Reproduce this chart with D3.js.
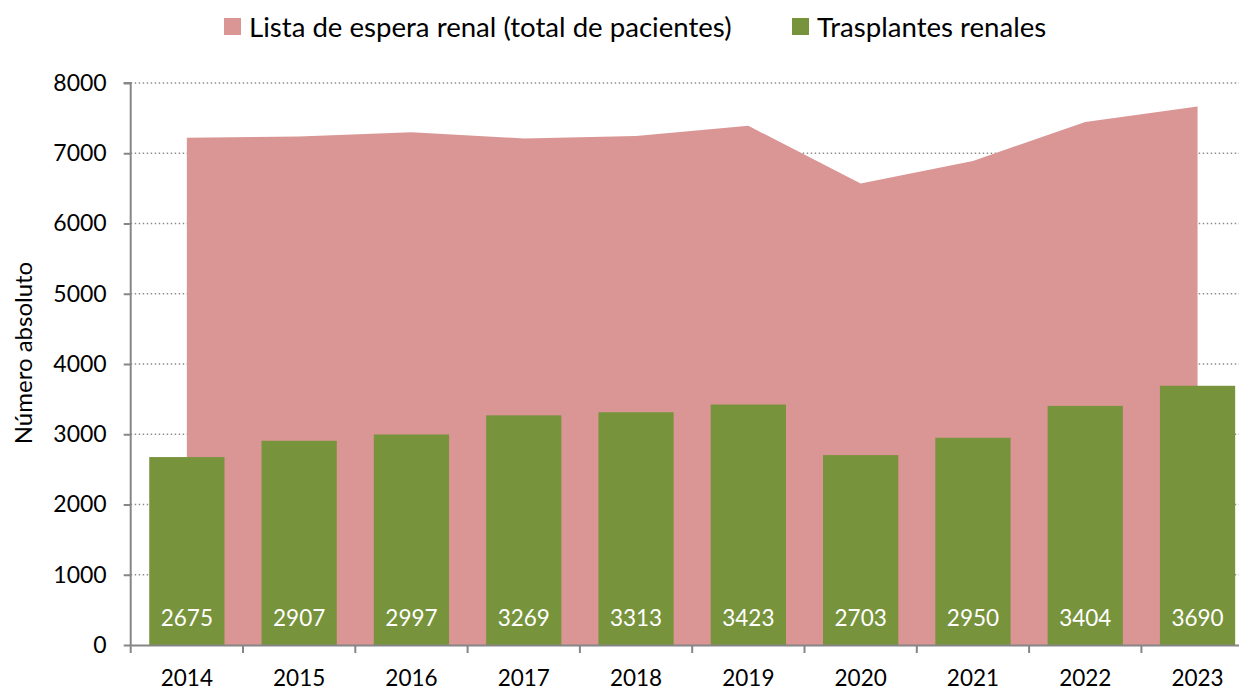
<!DOCTYPE html>
<html>
<head>
<meta charset="utf-8">
<script src="https://cdn.jsdelivr.net/npm/d3@7"></script>
<style>
  html, body { margin: 0; padding: 0; background: #fff; }
  svg { display: block; font-family: Lato, "Open Sans", sans-serif; }
</style>
</head>
<body>
<svg id="chart" width="1239" height="690"></svg>
<script>
// Kidney waiting list vs. kidney transplants, 2014–2023
const years = ["2014", "2015", "2016", "2017", "2018", "2019", "2020", "2021", "2022", "2023"];
const waitingList = [7220, 7240, 7300, 7210, 7245, 7390, 6570, 6890, 7445, 7665];
const transplants = [2675, 2907, 2997, 3269, 3313, 3423, 2703, 2950, 3404, 3690];
const yTicks = [0, 1000, 2000, 3000, 4000, 5000, 6000, 7000, 8000];
const seriesNames = ["Lista de espera renal (total de pacientes)", "Trasplantes renales"];
const colors = ["#D99694", "#77933C"];

const svg = d3.select("#chart");
const plotLeft = 130.7, plotBottom = 645, plotTop = 83, step = 112.3;
const plotRight = plotLeft + step * years.length;

const x = d3.scaleBand().domain(years).range([plotLeft, plotRight]).padding(0);
const xBar = d3.scaleBand().domain(years).range([plotLeft, plotRight]).paddingInner(0.33).paddingOuter(0.165);
const y = d3.scaleLinear().domain([0, 8000]).range([plotBottom, plotTop]);

// dotted gridlines
svg.append("g")
  .selectAll("line")
  .data(yTicks.filter(d => d > 0))
  .join("line")
  .attr("x1", plotLeft).attr("x2", 1239)
  .attr("y1", d => y(d)).attr("y2", d => y(d))
  .attr("stroke", "#8c8c8c")
  .attr("stroke-width", 1.5)
  .attr("stroke-dasharray", "1.5,2.5");

// waiting list area
const area = d3.area()
  .x((d, i) => x(years[i]) + x.bandwidth() / 2)
  .y0(y(0))
  .y1(d => y(d));
svg.append("path")
  .datum(waitingList)
  .attr("d", area)
  .attr("fill", colors[0]);

// transplant bars
svg.append("g")
  .selectAll("rect")
  .data(transplants)
  .join("rect")
  .attr("x", (d, i) => xBar(years[i]))
  .attr("width", xBar.bandwidth())
  .attr("y", d => y(d))
  .attr("height", d => y(0) - y(d))
  .attr("fill", colors[1]);

// value labels inside bars
svg.append("g")
  .selectAll("text")
  .data(transplants)
  .join("text")
  .attr("x", (d, i) => xBar(years[i]) + xBar.bandwidth() / 2)
  .attr("y", 626)
  .attr("text-anchor", "middle")
  .attr("fill", "#fff")
  .attr("font-size", 22.5)
  .text(d => d);

// y axis
const yAxis = d3.axisLeft(y).tickValues(yTicks).tickSize(7).tickPadding(17).tickFormat(d3.format("d"));
const gy = svg.append("g").attr("transform", `translate(${plotLeft},0)`).call(yAxis);
gy.select(".domain").attr("stroke", "#868686").attr("stroke-width", 2).attr("d", `M-7,${plotTop}H0V${plotBottom}`);
gy.selectAll(".tick line").attr("stroke", "#868686").attr("stroke-width", 2);
gy.selectAll(".tick text").attr("font-size", 23).attr("fill", "#000").attr("font-family", "Lato, sans-serif");

// x axis
const xAxis = d3.axisBottom(x).tickSize(0).tickPadding(0);
const gx = svg.append("g").attr("transform", `translate(0,${plotBottom})`).call(xAxis);
gx.select(".domain").attr("stroke", "#868686").attr("stroke-width", 2);
gx.selectAll(".tick text")
  .attr("font-size", 22.5).attr("fill", "#000").attr("font-family", "Lato, sans-serif")
  .attr("dy", null).attr("y", 41);
gx.append("g")
  .selectAll("line")
  .data(years.concat(["end"]))
  .join("line")
  .attr("x1", (d, i) => plotLeft + i * step).attr("x2", (d, i) => plotLeft + i * step)
  .attr("y1", 0).attr("y2", 8)
  .attr("stroke", "#868686").attr("stroke-width", 2);

// y axis title
svg.append("text")
  .attr("transform", "translate(32,353) rotate(-90)")
  .attr("text-anchor", "middle")
  .attr("font-size", 24)
  .attr("fill", "#000")
  .text("Número absoluto");

// legend
const legendItems = [{ x: 224, name: seriesNames[0], color: colors[0] }, { x: 792, name: seriesNames[1], color: colors[1] }];
const lg = svg.append("g").selectAll("g").data(legendItems).join("g")
  .attr("transform", d => `translate(${d.x},18)`);
lg.append("rect").attr("width", 17).attr("height", 17).attr("fill", d => d.color);
lg.append("text").attr("x", 25).attr("y", 19).attr("font-size", 27.6).attr("fill", "#000").text(d => d.name);
</script>
</body>
</html>
